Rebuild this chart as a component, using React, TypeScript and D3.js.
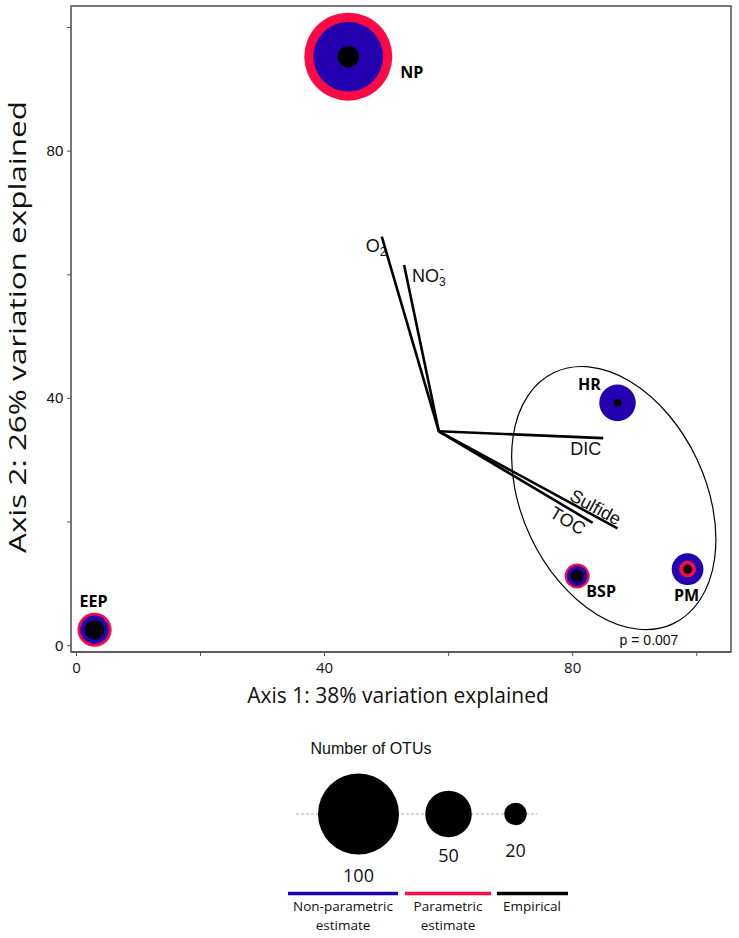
import React from "react";
import * as d3 from "d3";

// ---- data ----
const sites = ["NP", "EEP", "HR", "BSP", "PM"];
const axis1 = [43.9, 3.0, 87.3, 80.8, 98.6];
const axis2 = [95.2, 2.5, 39.2, 11.2, 12.3];
const nonParametric = [83, 27, 37, 18, 31];
const parametric: (number | null)[] = [111, 34, null, 23, 14];
const empirical = [19, 17, 5.5, 10, 6.5];

const vectorNames = ["O2", "NO3", "DIC", "Sulfide", "TOC"];
const vectorOrigin = [58.5, 34.6];
const vectorX = [49.3, 52.9, 85.0, 87.3, 83.3];
const vectorY = [66.1, 61.5, 33.5, 18.9, 19.8];

const ellipseCenter = [86.7, 23.8];
const ellipseRadii = [22.4, 14.8];
const ellipseAngle = 64.6;
const pValue = "p = 0.007";

const xTicks = [0, 20, 40, 60, 80, 100];
const yTicks = [0, 20, 40, 60, 80, 100];
const labeledTicks = [0, 40, 80];

const legendSizes = [100, 50, 20];
const legendKinds = ["Non-parametric|estimate", "Parametric|estimate", "Empirical"];

// ---- styles ----
const BLUE = "#2300b0";
const RED = "#fb0a44";
const BLACK = "#000";
const SANS = "'Open Sans', 'DejaVu Sans', sans-serif";
const ARIAL = "'Liberation Sans', Arial, sans-serif";

const siteLabelPos: Record<string, [number, number, string]> = {
  NP: [52, 21, "start"],
  EEP: [-1, -23, "middle"],
  HR: [-28, -13, "middle"],
  BSP: [24, 21, "middle"],
  PM: [-1, 32, "middle"],
};

export default function App() {
  const W = 739, H = 938;
  const left = 71, right = 731, top = 6, bottom = 652;
  const x = d3.scaleLinear().domain([-0.8, 105.6]).range([left, right]);
  const y = d3.scaleLinear().domain([-1.1, 103.4]).range([bottom, top]);
  const r = d3.scalePow().exponent(0.8).domain([0, 100]).range([0, 40.5]);

  const xAxisRef = React.useRef<SVGGElement>(null);
  const yAxisRef = React.useRef<SVGGElement>(null);

  React.useEffect(() => {
    const fmt = (d: any) => (labeledTicks.includes(d) ? String(d) : "");
    const xa = d3.select(xAxisRef.current!);
    xa.call(d3.axisBottom(x).tickValues(xTicks).tickFormat(fmt).tickSize(4).tickSizeOuter(0) as any);
    xa.select(".domain").remove();
    xa.selectAll("line").attr("stroke", "#555");
    xa.selectAll("text").attr("font-family", SANS).attr("font-size", 15).attr("fill", "#111").attr("dy", "0.95em");
    const ya = d3.select(yAxisRef.current!);
    ya.call(d3.axisLeft(y).tickValues(yTicks).tickFormat(fmt).tickSize(4).tickSizeOuter(0) as any);
    ya.select(".domain").remove();
    ya.selectAll("line").attr("stroke", "#555");
    ya.selectAll("text").attr("font-family", ARIAL).attr("font-size", 15).attr("fill", "#111").attr("dx", "-0.05em");
  }, []);

  const ox = x(vectorOrigin[0]);
  const oy = y(vectorOrigin[1]);

  const erx = x(ellipseCenter[0] + ellipseRadii[0]) - x(ellipseCenter[0]);
  const ery = x(ellipseCenter[0] + ellipseRadii[1]) - x(ellipseCenter[0]);

  const tip = (i: number) => [x(vectorX[i]), y(vectorY[i])];
  const angle = (i: number) => (Math.atan2(y(vectorY[i]) - oy, x(vectorX[i]) - ox) * 180) / Math.PI;

  // legend layout
  const legendY = 814;
  const legendXs = [358.5, 448.5, 515.5];
  const legendLabelY = [882, 862, 857];
  const lineSegs = [
    [288, 398, BLUE, 343],
    [405, 491, RED, 448],
    [497, 568, BLACK, 532],
  ] as [number, number, string, number][];

  return (
    <svg width={W} height={H} style={{ position: "absolute", left: 0, top: 0, background: "#fff" }}>
      {/* frame */}
      <rect x={left} y={top} width={right - left} height={bottom - top} fill="none" stroke="#333" strokeWidth={1.3} />
      <line x1={left} x2={left} y1={top} y2={bottom} stroke="#777" strokeWidth={1.6} />
      <line x1={left} x2={right} y1={bottom} y2={bottom} stroke="#555" strokeWidth={1.6} />
      <g ref={xAxisRef} transform={`translate(0,${bottom})`} />
      <g ref={yAxisRef} transform={`translate(${left},0)`} />

      {/* axis titles */}
      <text x={398} y={703} textAnchor="middle" fontFamily={SANS} fontSize={21} fill="#111">
        Axis 1: 38% variation explained
      </text>
      <text
        transform={`translate(25.5,327) rotate(-90)`}
        textAnchor="middle"
        fontFamily={SANS}
        fontSize={24}
        fill="#111"
        textLength={452}
        lengthAdjust="spacingAndGlyphs"
      >
        Axis 2: 26% variation explained
      </text>

      {/* ellipse */}
      <ellipse
        cx={0}
        cy={0}
        rx={erx}
        ry={ery}
        transform={`translate(${x(ellipseCenter[0])},${y(ellipseCenter[1])}) rotate(${ellipseAngle})`}
        fill="none"
        stroke="#000"
        strokeWidth={1.2}
      />
      <text x={649} y={645} textAnchor="middle" fontFamily={ARIAL} fontSize={14} fill="#111">
        {pValue}
      </text>

      {/* vectors */}
      {vectorNames.map((n, i) => (
        <line key={n} x1={ox} y1={oy} x2={x(vectorX[i])} y2={y(vectorY[i])} stroke="#000" strokeWidth={2.6} />
      ))}
      {/* vector labels */}
      <text x={tip(0)[0] - 16} y={tip(0)[1] + 15} fontFamily={ARIAL} fontSize={18} fill="#111">
        O<tspan fontSize={12} dy={4}>2</tspan>
      </text>
      <text x={tip(1)[0] + 8} y={tip(1)[1] + 16.5} fontFamily={ARIAL} fontSize={18} fill="#111">
        NO<tspan fontSize={12} dy={4}>3</tspan>
        <tspan fontSize={12} dx={-6} dy={-13}>-</tspan>
      </text>
      <text x={tip(2)[0] - 17.5} y={tip(2)[1] + 17} textAnchor="middle" fontFamily={ARIAL} fontSize={18} fill="#111">
        DIC
      </text>
      <text
        transform={`translate(${tip(3)[0] - 22},${tip(3)[1] - 21}) rotate(${angle(3)})`}
        textAnchor="middle"
        dominantBaseline="central"
        fontFamily={ARIAL}
        fontSize={18}
        fill="#111"
      >
        Sulfide
      </text>
      <text
        transform={`translate(${tip(4)[0] - 25},${tip(4)[1] - 2}) rotate(${angle(4)})`}
        textAnchor="middle"
        dominantBaseline="central"
        fontFamily={ARIAL}
        fontSize={18}
        fill="#111"
      >
        TOC
      </text>

      {/* sites */}
      {sites.map((s, i) => {
        const rings: [number, string][] = [
          [nonParametric[i], BLUE],
          [parametric[i] as number, RED],
          [empirical[i], BLACK],
        ];
        const valid = rings.filter((d) => d[0] != null).sort((a, b) => b[0] - a[0]);
        const cx = x(axis1[i]);
        const cy = y(axis2[i]);
        const lp = siteLabelPos[s];
        return (
          <g key={s}>
            {valid.map(([v, c], k) => (
              <circle key={k} cx={cx} cy={cy} r={r(v)} fill={c} />
            ))}
            <text
              x={cx + lp[0]}
              y={cy + lp[1]}
              textAnchor={lp[2] as any}
              fontFamily={SANS}
              fontWeight="bold"
              fontSize={16}
              fill="#000"
            >
              {s}
            </text>
          </g>
        );
      })}

      {/* legend */}
      <text x={371} y={754} textAnchor="middle" fontFamily={ARIAL} fontSize={16} fill="#111">
        Number of OTUs
      </text>
      <line x1={296} x2={537} y1={legendY} y2={legendY} stroke="#999" strokeWidth={0.8} strokeDasharray="3,2" />
      {legendSizes.map((v, i) => (
        <g key={v}>
          <circle cx={legendXs[i]} cy={legendY} r={r(v)} fill="#000" />
          <text x={legendXs[i]} y={legendLabelY[i]} textAnchor="middle" fontFamily={SANS} fontSize={18} fill="#111">
            {v}
          </text>
        </g>
      ))}
      {legendKinds.map((k, i) => {
        const [x1, x2, c, tx] = lineSegs[i];
        const parts = k.split("|");
        return (
          <g key={k}>
            <line x1={x1} x2={x2} y1={893.5} y2={893.5} stroke={c} strokeWidth={3.4} />
            {parts.map((p, j) => (
              <text key={j} x={tx} y={911 + j * 19} textAnchor="middle" fontFamily={SANS} fontSize={13.5} fill="#111">
                {p}
              </text>
            ))}
          </g>
        );
      })}
    </svg>
  );
}
